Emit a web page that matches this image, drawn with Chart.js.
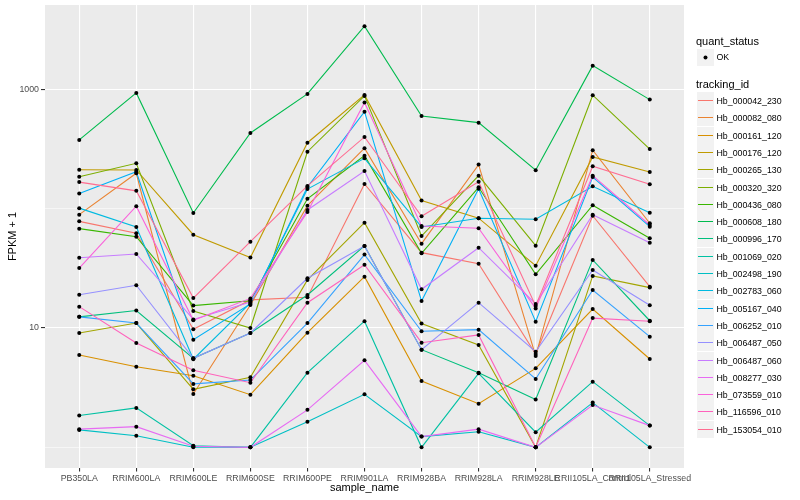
<!DOCTYPE html>
<html>
<head>
<meta charset="utf-8">
<script src="https://cdn.jsdelivr.net/npm/chart.js@4.4.0/dist/chart.umd.min.js"></script>
<style>
  body { margin: 0; background: #fff; font-family: "Liberation Sans", Arial, sans-serif; }
  #wrap { position: relative; width: 800px; height: 500px; }
  #legend div { position: absolute; white-space: nowrap; }
  .ttl { font-size: 11px; color: #000; height: 14px; line-height: 14px; }
  .lab { font-size: 8.8px; color: #000; height: 12px; line-height: 12px; }
  .key { width: 17px; height: 17px; background: #F2F2F2; }
  .key span { position: absolute; left: 1px; top: 8px; width: 15px; height: 1.4px; }
</style>
</head>
<body>
<div id="wrap">
  <canvas id="chart" width="800" height="500"></canvas>
  <div id="legend"></div>
</div>
<script>
const categories = ['PB350LA', 'RRIM600LA', 'RRIM600LE', 'RRIM600SE', 'RRIM600PE', 'RRIM901LA',
    'RRIM928BA', 'RRIM928LA', 'RRIM928LE', 'RRII105LA_Control', 'RRII105LA_Stressed'];

const trackingIds = ['Hb_000042_230', 'Hb_000082_080', 'Hb_000161_120', 'Hb_000176_120', 'Hb_000265_130',
    'Hb_000320_320', 'Hb_000436_080', 'Hb_000608_180', 'Hb_000996_170', 'Hb_001069_020',
    'Hb_002498_190', 'Hb_002783_060', 'Hb_005167_040', 'Hb_006252_010', 'Hb_006487_050',
    'Hb_006487_060', 'Hb_008277_030', 'Hb_073559_010', 'Hb_116596_010', 'Hb_153054_010'];

// FPKM + 1, one value per sample
const hb_000042_230 = [78.3, 62.2, 9.75, 17.2, 18.1, 161, 42.8, 34.6, 6.05, 87.3, 22.2];
const hb_000082_080 = [89.1, 198, 2.80, 15.6, 106, 321, 50.9, 234, 5.82, 309, 75.5];
const hb_000161_120 = [5.94, 4.74, 3.98, 2.76, 9.13, 26.9, 3.60, 2.32, 4.59, 14.4, 5.50];
const hb_000176_120 = [212, 211, 60.5, 39.0, 357, 898, 117, 83.2, 33.3, 271, 203];
const hb_000265_130 = [9.08, 11.0, 3.06, 3.86, 25.3, 76.3, 10.9, 7.21, 1.0, 27.3, 21.8];
const hb_000320_320 = [185, 240, 13.9, 10.0, 300, 881, 59.0, 189, 49.0, 893, 316];
const hb_000436_080 = [68.0, 58.2, 15.4, 16.9, 121, 278, 42.3, 151, 28.2, 107, 56.5];
const hb_000608_180 = [377, 933, 92.0, 431, 915, 3380, 598, 526, 210, 1580, 820];
const hb_000996_170 = [12.4, 14.0, 5.57, 9.08, 18.9, 48.7, 6.58, 4.22, 2.52, 37.2, 11.5];
const hb_001069_020 = [1.85, 2.14, 1.03, 1.0, 4.22, 11.4, 1.0, 4.17, 1.34, 3.55, 1.52];
const hb_002498_190 = [1.40, 1.25, 1.0, 1.0, 1.64, 2.78, 1.23, 1.35, 1.0, 2.37, 1.0];
const hb_002783_060 = [101, 70.3, 5.47, 16.2, 146, 264, 70.3, 83.2, 81.5, 154, 92.5];
const hb_005167_040 = [134, 204, 7.98, 15.9, 152, 650, 16.8, 147, 11.3, 184, 70.6];
const hb_006252_010 = [12.4, 11.0, 3.40, 3.66, 11.0, 41.2, 9.38, 9.68, 3.74, 20.8, 8.46];
const hb_006487_050 = [19.0, 22.8, 5.57, 9.08, 26.1, 48.7, 6.58, 16.3, 6.33, 30.6, 15.5];
const hb_006487_060 = [38.8, 41.7, 11.8, 16.5, 97.5, 207, 21.1, 47.1, 15.9, 89.1, 51.9];
const hb_008277_030 = [1.42, 1.49, 1.02, 1.0, 2.06, 5.36, 1.23, 1.42, 1.0, 2.26, 1.52];
const hb_073559_010 = [31.8, 105, 11.6, 17.7, 93.8, 774, 71.6, 68.5, 14.6, 189, 73.0];
const hb_116596_010 = [15.1, 7.48, 4.42, 3.48, 16.3, 33.9, 7.53, 8.74, 1.0, 12.1, 11.4];
const hb_153054_010 = [167, 141, 17.8, 52.9, 155, 399, 86.3, 168, 15.3, 227, 160];

const seriesValues = [hb_000042_230, hb_000082_080, hb_000161_120, hb_000176_120, hb_000265_130,
    hb_000320_320, hb_000436_080, hb_000608_180, hb_000996_170, hb_001069_020,
    hb_002498_190, hb_002783_060, hb_005167_040, hb_006252_010, hb_006487_050,
    hb_006487_060, hb_008277_030, hb_073559_010, hb_116596_010, hb_153054_010];

const yBreaks = [1, 10, 100, 1000];
const yLabels = [10, 1000];

// ggplot default hue palette for 20 levels
const palette = ['#F8766D', '#EA8331', '#D89000', '#C09B00', '#A3A500', '#7CAE00', '#39B600', '#00BB4E',
    '#00BF7D', '#00C1A3', '#00BFC4', '#00BAE0', '#00B0F6', '#35A2FF', '#9590FF', '#C77CFF',
    '#E76BF3', '#FA62DB', '#FF62BC', '#FF6C91'];

const datasets = seriesValues.map((vals, i) => ({
    label: trackingIds[i],
    data: vals.map((v, j) => ({ x: j, y: v })),
    borderColor: palette[i],
    borderWidth: 1.1,
    pointRadius: 0,
    fill: false,
    tension: 0,
    order: seriesValues.length - i
}));

// black points on top of every line
datasets.push({
    label: 'OK',
    data: seriesValues.flatMap(vals => vals.map((v, j) => ({ x: j, y: v }))),
    showLine: false,
    pointRadius: 2,
    pointBackgroundColor: '#000',
    pointBorderWidth: 0,
    order: 0
});

const panelBg = {
    id: 'panelBg',
    beforeDraw(chart) {
        const { ctx, chartArea: a } = chart;
        ctx.save();
        ctx.fillStyle = '#EBEBEB';
        ctx.fillRect(a.left, a.top, a.right - a.left, a.bottom - a.top);
        ctx.restore();
    }
};

const font = "'Liberation Sans', Arial, sans-serif";

new Chart(document.getElementById('chart'), {
    type: 'line',
    data: { datasets: datasets },
    options: {
        responsive: false,
        animation: false,
        layout: { padding: { left: 0, top: 5, right: 116, bottom: 0 } },
        plugins: { legend: { display: false }, tooltip: { enabled: false } },
        scales: {
            x: {
                type: 'linear',
                min: -0.6,
                max: 10.6,
                afterBuildTicks: s => { s.ticks = categories.map((c, i) => ({ value: i })); },
                afterFit: s => { s.height = 32; s.paddingLeft = 0; s.paddingRight = 0; },
                ticks: {
                    callback: v => categories[v],
                    autoSkip: false,
                    maxRotation: 0,
                    color: '#4D4D4D',
                    font: { family: font, size: 8.8 },
                    padding: 2
                },
                grid: { color: '#FFFFFF', lineWidth: 1.1, tickLength: 3.5, tickColor: '#333333' },
                border: { display: false },
                title: {
                    display: true,
                    text: 'sample_name',
                    color: '#000',
                    font: { family: font, size: 11 },
                    padding: { top: 0, bottom: 5 }
                }
            },
            y: {
                type: 'logarithmic',
                min: 0.671,
                max: 5090,
                afterBuildTicks: s => { s.ticks = yBreaks.map(v => ({ value: v })); },
                afterFit: s => { s.width = 45; s.paddingTop = 0; s.paddingBottom = 0; },
                ticks: {
                    callback: v => yLabels.includes(v) ? String(v) : '',
                    color: '#4D4D4D',
                    font: { family: font, size: 8.8 },
                    padding: 2
                },
                grid: {
                    color: '#FFFFFF',
                    lineWidth: c => yLabels.includes(c.tick.value) ? 1.1 : 0.55,
                    tickLength: 4,
                    tickColor: c => yLabels.includes(c.tick.value) ? '#333333' : 'rgba(0,0,0,0)'
                },
                border: { display: false },
                title: {
                    display: true,
                    text: 'FPKM + 1',
                    color: '#000',
                    font: { family: font, size: 11 },
                    padding: { top: 6 }
                }
            }
        }
    },
    plugins: [panelBg]
});

// ggplot-style legends on the right
const legend = document.getElementById('legend');
function addDiv(cls, left, top, text) {
    const d = document.createElement('div');
    d.className = cls;
    d.style.left = left + 'px';
    d.style.top = top + 'px';
    if (text) d.textContent = text;
    legend.appendChild(d);
    return d;
}
addDiv('ttl', 696, 34, 'quant_status');
const okKey = addDiv('key', 697, 49);
okKey.innerHTML = '<svg width="17" height="17"><circle cx="8.5" cy="8.5" r="2" fill="#000"/></svg>';
addDiv('lab', 716.5, 51, 'OK');
addDiv('ttl', 696, 77, 'tracking_id');
trackingIds.forEach((id, i) => {
    const top = Math.round(92 + 17.3 * i);
    const k = addDiv('key', 697, top);
    k.innerHTML = '<span style="background:' + palette[i] + '"></span>';
    addDiv('lab', 716.5, top + 3, id);
});
</script>
</body>
</html>
